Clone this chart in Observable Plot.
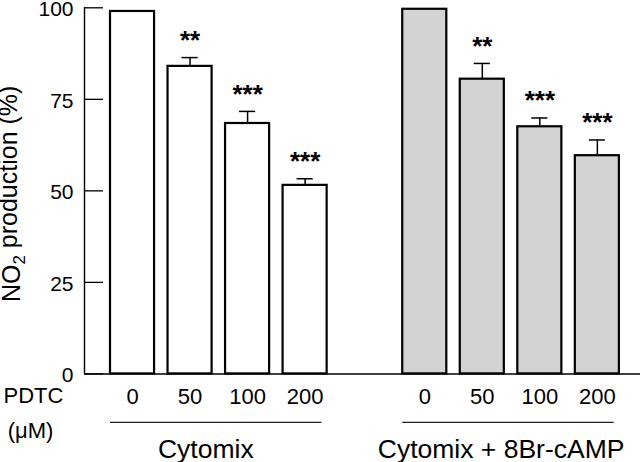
<!DOCTYPE html>
<html><head><meta charset="utf-8">
<script src="https://cdn.jsdelivr.net/npm/d3@7"></script>
<script src="https://cdn.jsdelivr.net/npm/@observablehq/plot@0.6"></script>
<style>
body{margin:0;background:#fff;}
#chart svg{display:block}
</style>
</head><body><div id="chart"></div>
<script>
// ---- data ----
const groups = ["Cytomix", "Cytomix + 8Br-cAMP"];
const concentrations = ["0", "50", "100", "200"];
const cytomixMean = [99.0, 84.0, 68.4, 51.5];
const cytomixSem  = [0, 2.4, 3.3, 1.8];
const cytomixSig  = ["", "**", "***", "***"];
const campMean = [99.6, 80.5, 67.5, 59.6];
const campSem  = [0, 4.3, 2.4, 4.3];
const campSig  = ["", "**", "***", "***"];
const groupFills = ["white", "#d3d3d3"];
const yTicks = [0, 25, 50, 75, 100];
const yTitle = "NO2 production (%)";
const unitLabel = "PDTC";
const unitSub = "(\u03BCM)";

// ---- layout helpers ----
const groupOffset = 5.08;   // slot distance between the two groups
const halfBar = 0.383;
const capHalf = 0.14;
const xDomain = [-0.835, 8.83];

const means = [cytomixMean, campMean];
const sems = [cytomixSem, campSem];
const sigs = [cytomixSig, campSig];

const rows = [];
groups.forEach((g, gi) => concentrations.forEach((c, i) => rows.push({
  group: g, gi, conc: c, mean: means[gi][i], sem: sems[gi][i], sig: sigs[gi][i],
  pos: gi * groupOffset + i
})));
const errRows = rows.filter(d => d.sem > 0);
const groupRows = groups.map((g, gi) => ({
  group: g, gi,
  start: gi * groupOffset,
  end: gi * groupOffset + concentrations.length - 1
}));

const font = "'Liberation Sans', Arial, Helvetica, sans-serif";

const chart = Plot.plot({
  width: 640,
  height: 462,
  marginLeft: 84,
  marginRight: 0,
  marginTop: 7.3,
  marginBottom: 88.6,
  style: {fontFamily: font, background: "white", color: "black", overflow: "visible"},
  x: {type: "linear", domain: xDomain, axis: null},
  y: {domain: [0, 100]},
  marks: [
    Plot.axisY({ticks: yTicks, tickSize: -19, tickFormat: () => "", label: null, strokeWidth: 1.3}),
    Plot.axisY({ticks: yTicks, tickSize: 0, tickPadding: 11, dy: 1.5, fontSize: 21, label: null}),
    Plot.ruleX([xDomain[0]], {y1: 0, y2: 100, strokeWidth: 1.4}),
    Plot.rectY(rows.filter(d => d.gi === 0), {x1: d => d.pos - halfBar, x2: d => d.pos + halfBar, y: "mean", fill: groupFills[0], stroke: "black", strokeWidth: 2.2}),
    Plot.rectY(rows.filter(d => d.gi === 1), {x1: d => d.pos - halfBar, x2: d => d.pos + halfBar, y: "mean", fill: groupFills[1], stroke: "black", strokeWidth: 2.2}),
    Plot.ruleY([0], {strokeWidth: 1.5}),
    Plot.ruleX(errRows, {x: "pos", y1: "mean", y2: d => d.mean + d.sem, strokeWidth: 1.5}),
    Plot.ruleY(errRows, {y: d => d.mean + d.sem, x1: d => d.pos - capHalf, x2: d => d.pos + capHalf, strokeWidth: 1.5}),
    Plot.text(errRows, {x: "pos", y: d => d.mean + d.sem, text: "sig", dy: -17, fontSize: 26, fontWeight: "bold", lineAnchor: "middle"}),
    Plot.text(rows, {x: "pos", text: "conc", frameAnchor: "bottom", lineAnchor: "middle", dy: 23, fontSize: 22}),
    Plot.text([unitLabel], {text: d => d, frameAnchor: "bottom-left", lineAnchor: "middle", dx: -51, dy: 22.5, fontSize: 22, textAnchor: "middle"}),
    Plot.text([unitSub], {text: d => d, frameAnchor: "bottom-left", lineAnchor: "middle", dx: -54, dy: 57.5, fontSize: 22, textAnchor: "middle"}),
    Plot.ruleY(groupRows, {y: () => 0, x1: d => d.start - halfBar, x2: d => d.end + halfBar - 0.09, dy: 48.5, strokeWidth: 1.3, stroke: "#222"}),
    Plot.text(groupRows.filter(d => d.gi === 0), {x: d => (d.start + d.end) / 2, text: "group", frameAnchor: "bottom", lineAnchor: "middle", dy: 75.5, dx: -13, fontSize: 26.5}),
    Plot.text(groupRows.filter(d => d.gi === 1), {x: d => (d.start + d.end) / 2, text: "group", frameAnchor: "bottom", lineAnchor: "middle", dy: 75.5, dx: -10, fontSize: 26.5}),
    Plot.text([yTitle], {text: d => d, frameAnchor: "left", textAnchor: "middle", lineAnchor: "middle", rotate: -90, dx: -73, dy: 3, fontSize: 25})
  ]
});
document.getElementById("chart").appendChild(chart);

// subscript the 2 in NO2
const t = [...chart.querySelectorAll("text")].find(e => e.textContent === yTitle);
if (t) {
  t.textContent = "";
  const ns = "http://www.w3.org/2000/svg";
  const a = document.createElementNS(ns, "tspan"); a.textContent = "NO";
  const b = document.createElementNS(ns, "tspan"); b.textContent = "2";
  b.setAttribute("font-size", "0.68em"); b.setAttribute("dy", "0.3em");
  const c = document.createElementNS(ns, "tspan"); c.textContent = " production (%)";
  c.setAttribute("dy", "-0.3em");
  t.append(a, b, c);
}
</script>
</body></html>
